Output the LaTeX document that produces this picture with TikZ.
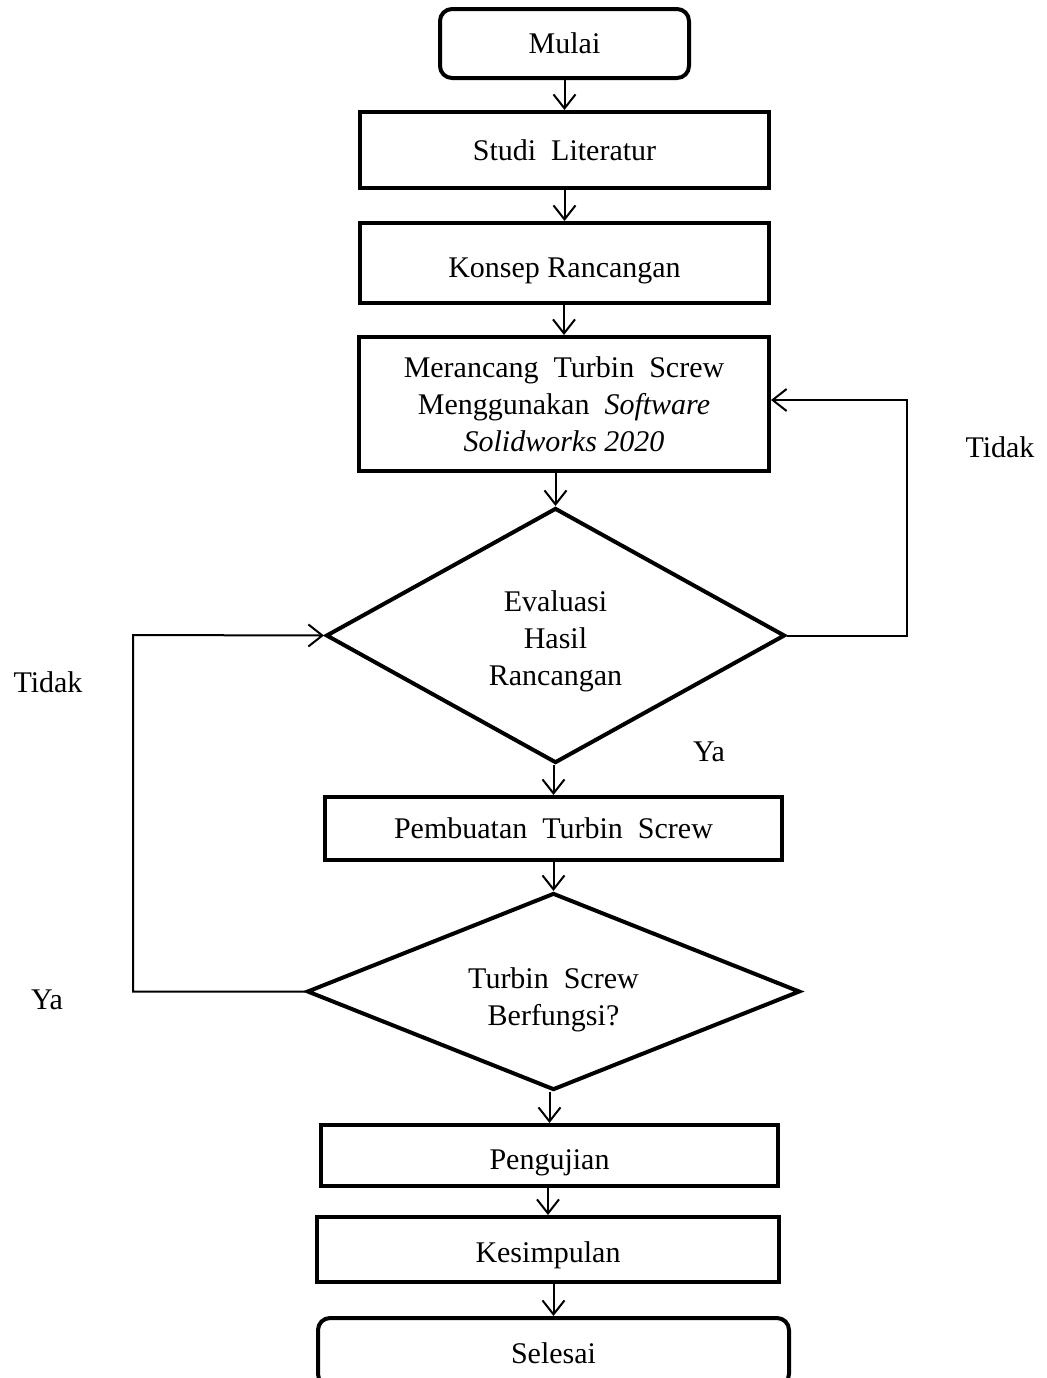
\documentclass[tikz,border=0pt]{standalone}
\usepackage{fontspec}
\setmainfont{Liberation Serif}
\usetikzlibrary{positioning, shapes.geometric, arrows.meta}

\begin{document}
\begin{tikzpicture}[x=0.5pt, y=-0.5pt,
  every node/.style={font=\fontsize{15}{18.5}\selectfont, align=center},
  kotak/.style={draw, line width=2pt, inner sep=0pt},
  ujung/.style={kotak, rounded corners=6pt},
  teksbawah/.style={text height=#1, text depth=3.3pt},
  putusan/.style={draw, diamond, line width=2pt, inner sep=0pt},
  panah/.style={-{Straight Barb[length=7pt, width=11pt]}, line width=1pt}]

  % 画布大小
  \useasboundingbox (0,0) rectangle (1047,1378);

  % 流程节点
  \node[ujung, minimum width=124.5pt, minimum height=34.5pt] (mulai) at (564.5,43.5) {Mulai};
  \node[kotak, minimum width=204.5pt, minimum height=38pt] (studi) at (564.5,150) {Studi\ \ Literatur};
  \node[kotak, teksbawah=18pt, minimum width=204.5pt, minimum height=40pt] (konsep) at (564.5,263) {Konsep Rancangan};
  \node[kotak, minimum width=205pt, minimum height=67pt] (merancang) at (564,404)
    {Merancang\ \ Turbin\ \ Screw\\ Menggunakan\ \ \textit{Software}\\ \textit{Solidworks 2020}};
  \node[putusan, shape aspect=1.8, minimum width=229.5pt, minimum height=127.5pt,
    label={[yshift=-3pt]center:Evaluasi\\ Hasil\\ Rancangan}] (eval) at (555.5,635.5) {};
  \node[kotak, minimum width=228.5pt, minimum height=31.5pt] (pembuatan) at (553.5,828.5) {Pembuatan\ \ Turbin\ \ Screw};
  \node[putusan, shape aspect=2.5, minimum width=246.5pt, minimum height=98.5pt,
    label={[yshift=-4pt]center:Turbin\ \ Screw\\ Berfungsi?}] (fungsi) at (553.5,991.5) {};
  \node[kotak, teksbawah=17.5pt, minimum width=228.5pt, minimum height=30.5pt] (pengujian) at (549.5,1155.5) {Pengujian};
  \node[kotak, teksbawah=16pt, minimum width=231pt, minimum height=32.5pt] (kesimpulan) at (548,1249.5) {Kesimpulan};
  \node[ujung, teksbawah=15pt, minimum width=235.5pt, minimum height=34pt] (selesai) at (553.5,1352) {Selesai};

  % 标签
  \node (tidakkanan) at (1000,447) {Tidak};
  \node (tidakkiri) at (48,682) {Tidak};
  \node (yaeval) at (709,752) {Ya};
  \node (yafungsi) at (47,1000) {Ya};

  % 主流程箭头
  \foreach \a/\b in {mulai/studi, studi/konsep, konsep/merancang, merancang/eval, eval/pembuatan,
                     pembuatan/fungsi, fungsi/pengujian, pengujian/kesimpulan, kesimpulan/selesai}
    \draw[panah] (\b.north |- \a.south) -- (\b.north);

  % 回路
  \coordinate (kanan) at (907,400);
  \coordinate (kiri) at (133,635);
  \draw[panah] (eval.east) -| (kanan) -- (kanan -| merancang.east);
  \draw[panah] (fungsi.west) -| (kiri) -- (eval.west);
\end{tikzpicture}
\end{document}
